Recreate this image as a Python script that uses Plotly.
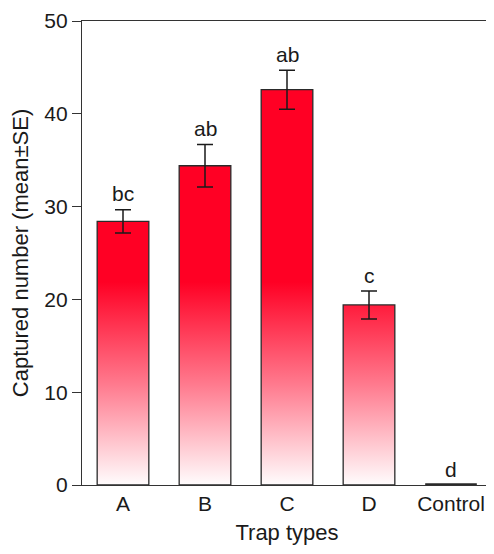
import plotly.graph_objects as go

categories = ["A", "B", "C", "D", "Control"]
means = [28.4, 34.4, 42.6, 19.4, 0.0]
se = [1.25, 2.3, 2.1, 1.5, 0.0]
letters = ["bc", "ab", "ab", "c", "d"]
y_ticks = [0, 10, 20, 30, 40, 50]

bar_w = 0.63
FONT = "Liberation Sans, Arial, sans-serif"
RED = "#FF0024"

fig = go.Figure()

for i, (cat, m) in enumerate(zip(categories, means)):
    x0, x1 = i - bar_w / 2, i + bar_w / 2
    fig.add_trace(go.Scatter(
        x=[x0, x0, x1, x1, x0],
        y=[0, m, m, 0, 0],
        mode="lines",
        fill="toself",
        fillgradient=dict(type="vertical", start=0, stop=22,
                          colorscale=[[0, "#FFFFFF"], [0.5, "#FF7A8E"], [1, RED]]),
        line=dict(color="#2a2a2a", width=3.5 if m == 0 else 1.3),
        hoverinfo="skip",
        showlegend=False,
    ))

# error bars
idx = [i for i, s in enumerate(se) if s > 0]
fig.add_trace(go.Scatter(
    x=idx,
    y=[means[i] for i in idx],
    mode="markers",
    marker=dict(size=0.1, color="rgba(0,0,0,0)"),
    error_y=dict(type="data", array=[se[i] for i in idx], visible=True,
                 color="#1a1a1a", thickness=1.5, width=8),
    showlegend=False,
))

for i, (m, s, lab) in enumerate(zip(means, se, letters)):
    fig.add_annotation(x=i, y=m + s, text=lab, showarrow=False,
                       yanchor="middle", yshift=16,
                       font=dict(family=FONT, size=21, color="#1a1a1a"))

fig.update_layout(
    width=486, height=546,
    margin=dict(l=74, r=1, t=11, b=69),
    plot_bgcolor="white", paper_bgcolor="white",
    font=dict(family=FONT, size=21, color="#1a1a1a"),
)
fig.update_xaxes(
    range=[-0.5, 4.5], tickvals=list(range(len(categories))), ticktext=categories,
    showgrid=False, zeroline=False, showline=True, linecolor="#333", linewidth=1.3,
    mirror=True, ticks="", tickfont=dict(size=21),
    title=dict(text="Trap types", font=dict(size=22), standoff=10),
)
fig.update_yaxes(
    range=[0, 50.0001], tickvals=y_ticks, ticklabeloverflow="allow",
    showgrid=False, zeroline=False, showline=True, linecolor="#333", linewidth=1.3,
    mirror=True, ticks="outside", ticklen=9, tickwidth=1.3, tickcolor="#333",
    tickfont=dict(size=21),
    title=dict(text="Captured number (mean±SE)", font=dict(size=22), standoff=12),
)

fig.write_html("out.html")
